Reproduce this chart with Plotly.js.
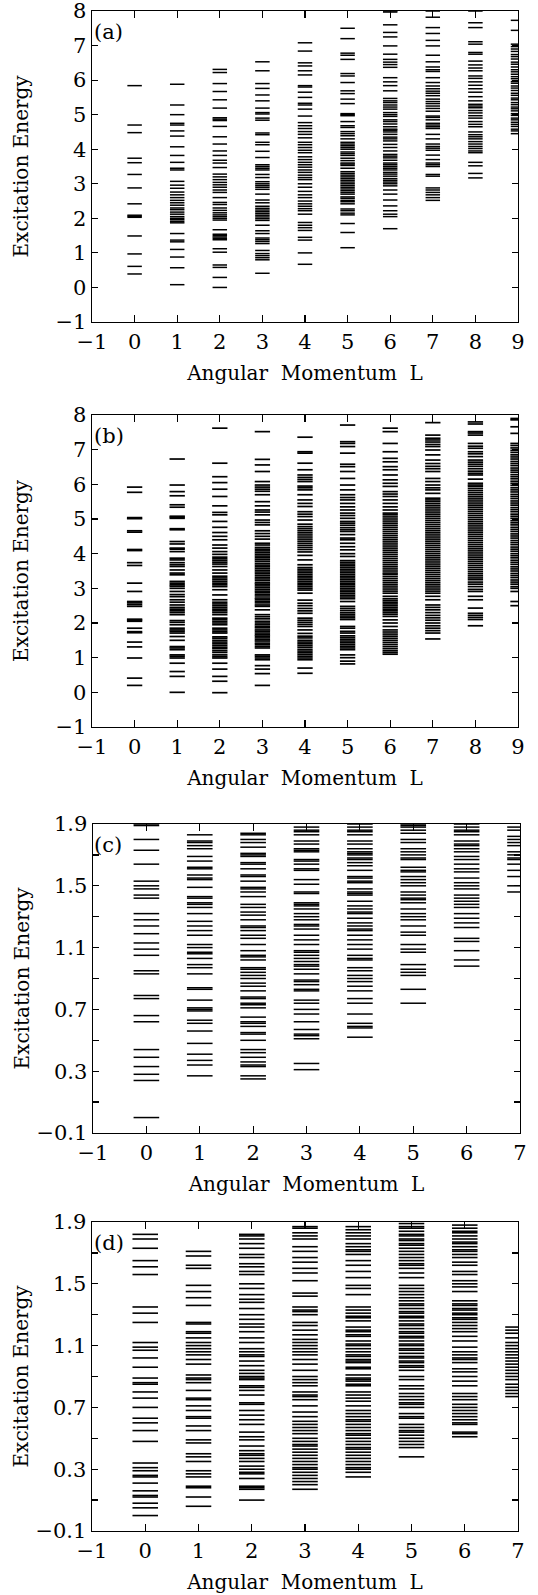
<!DOCTYPE html>
<html>
<head>
<meta charset="utf-8">
<script src="https://cdn.plot.ly/plotly-3.0.1.min.js"></script>
<style>
  html, body { margin: 0; padding: 0; background: #ffffff; }
  #chart { width: 538px; height: 1595px; }
</style>
</head>
<body>
<div id="chart"></div>
<script>
// Excitation spectra: one list of level energies per angular momentum L.

// Panel (a), L = 0 ... 9
const spectrumA = [
  [0.39, 0.61, 0.97, 1.49, 2.03, 2.06, 2.09, 2.42, 2.88, 3.27, 3.61, 3.74, 4.48, 4.70, 5.84],
  [0.08, 0.57, 0.88, 1.10, 1.32, 1.37, 1.56, 1.87, 1.91, 1.96, 2.00, 2.05, 2.12, 2.18, 2.25, 2.30, 2.38, 2.45, 2.52, 2.60, 2.68, 2.76, 2.87, 2.96, 3.07, 3.40, 3.45, 3.62, 3.82, 4.07, 4.38, 4.53, 4.70, 4.75, 5.00, 5.28, 5.88],
  [0.00, 0.29, 0.58, 0.65, 1.02, 1.12, 1.38, 1.42, 1.46, 1.50, 1.54, 1.67, 1.95, 2.00, 2.05, 2.10, 2.16, 2.23, 2.30, 2.40, 2.46, 2.60, 2.75, 2.82, 2.90, 2.97, 3.04, 3.12, 3.20, 3.28, 3.47, 3.60, 3.68, 3.82, 3.95, 4.15, 4.36, 4.66, 4.83, 4.87, 4.91, 5.19, 5.43, 5.67, 5.90, 6.22, 6.31],
  [0.41, 0.80, 0.86, 0.92, 0.98, 1.07, 1.27, 1.33, 1.38, 1.43, 1.56, 1.64, 1.80, 1.94, 1.99, 2.04, 2.09, 2.14, 2.19, 2.24, 2.29, 2.35, 2.45, 2.53, 2.70, 2.84, 2.90, 2.95, 3.00, 3.06, 3.18, 3.27, 3.40, 3.45, 3.50, 3.55, 3.76, 3.94, 4.13, 4.20, 4.42, 4.47, 4.84, 4.90, 5.02, 5.06, 5.19, 5.40, 5.57, 5.76, 5.90, 6.27, 6.53],
  [0.67, 1.00, 1.37, 1.45, 1.65, 1.73, 1.80, 1.88, 2.12, 2.22, 2.28, 2.35, 2.42, 2.50, 2.60, 2.68, 2.78, 2.90, 3.00, 3.12, 3.18, 3.25, 3.33, 3.40, 3.48, 3.55, 3.62, 3.70, 3.78, 3.90, 3.97, 4.05, 4.13, 4.20, 4.33, 4.43, 4.51, 4.60, 4.68, 4.77, 4.96, 5.16, 5.28, 5.33, 5.50, 5.65, 5.80, 5.84, 6.15, 6.27, 6.41, 6.50, 6.84, 7.08],
  [1.15, 1.59, 1.85, 2.10, 2.15, 2.22, 2.27, 2.42, 2.48, 2.52, 2.58, 2.62, 2.70, 2.75, 2.80, 2.85, 2.90, 2.95, 3.00, 3.05, 3.10, 3.15, 3.20, 3.25, 3.30, 3.35, 3.45, 3.53, 3.57, 3.60, 3.67, 3.74, 3.82, 3.87, 3.92, 4.00, 4.05, 4.10, 4.15, 4.20, 4.30, 4.39, 4.45, 4.51, 4.63, 4.68, 4.80, 4.97, 5.00, 5.03, 5.32, 5.45, 5.61, 5.69, 5.93, 6.12, 6.19, 6.60, 6.72, 6.78, 7.20, 7.50],
  [1.70, 2.05, 2.12, 2.22, 2.36, 2.53, 2.70, 2.82, 2.94, 3.00, 3.05, 3.10, 3.15, 3.22, 3.28, 3.33, 3.40, 3.45, 3.50, 3.55, 3.60, 3.68, 3.75, 3.80, 3.85, 3.95, 4.05, 4.14, 4.24, 4.30, 4.35, 4.43, 4.50, 4.55, 4.58, 4.65, 4.73, 4.80, 4.85, 4.95, 5.00, 5.06, 5.16, 5.22, 5.28, 5.35, 5.40, 5.47, 5.69, 5.84, 5.95, 6.07, 6.37, 6.45, 6.52, 6.60, 6.75, 6.99, 7.25, 7.38, 7.60, 7.97, 8.00],
  [2.52, 2.60, 2.68, 2.75, 2.82, 2.88, 3.22, 3.27, 3.50, 3.55, 3.60, 3.70, 3.83, 3.97, 4.03, 4.08, 4.15, 4.30, 4.43, 4.60, 4.65, 4.70, 4.75, 4.85, 4.92, 4.96, 5.10, 5.18, 5.25, 5.32, 5.38, 5.45, 5.55, 5.62, 5.68, 5.75, 5.83, 5.93, 6.07, 6.25, 6.30, 6.38, 6.53, 6.72, 6.99, 7.15, 7.35, 7.52, 7.82, 8.00],
  [3.17, 3.30, 3.52, 3.62, 3.90, 3.95, 4.02, 4.08, 4.15, 4.22, 4.30, 4.36, 4.42, 4.50, 4.65, 4.72, 4.80, 4.90, 4.97, 5.05, 5.12, 5.20, 5.25, 5.30, 5.40, 5.52, 5.65, 5.75, 5.85, 5.95, 6.05, 6.12, 6.27, 6.35, 6.44, 6.55, 6.75, 6.80, 7.04, 7.11, 7.52, 7.66, 8.00],
  [4.45, 4.53, 4.58, 4.66, 4.72, 4.78, 4.85, 4.90, 4.98, 5.03, 5.11, 5.17, 5.22, 5.29, 5.35, 5.43, 5.48, 5.56, 5.62, 5.70, 5.77, 5.83, 5.91, 5.96, 6.04, 6.10, 6.17, 6.24, 6.30, 6.38, 6.46, 6.52, 6.61, 6.68, 6.74, 6.83, 6.90, 6.97, 7.04, 7.44, 7.73]
];

// Panel (b), L = 0 ... 9
const spectrumB = [
  [0.20, 0.41, 0.99, 1.31, 1.45, 1.72, 1.75, 1.85, 2.05, 2.08, 2.11, 2.48, 2.53, 2.58, 2.62, 2.91, 3.15, 3.66, 3.74, 4.09, 4.12, 4.62, 4.66, 5.01, 5.04, 5.77, 5.92],
  [0.00, 0.46, 0.60, 0.84, 0.99, 1.04, 1.08, 1.23, 1.28, 1.32, 1.50, 1.61, 1.71, 1.76, 1.80, 1.85, 1.95, 2.02, 2.07, 2.24, 2.30, 2.35, 2.40, 2.45, 2.52, 2.60, 2.67, 2.76, 2.82, 2.91, 3.00, 3.06, 3.10, 3.15, 3.20, 3.39, 3.44, 3.53, 3.63, 3.68, 3.74, 3.82, 3.87, 4.06, 4.13, 4.16, 4.28, 4.35, 4.69, 4.72, 5.02, 5.05, 5.08, 5.34, 5.41, 5.67, 5.79, 5.98, 6.73],
  [-0.01, 0.32, 0.46, 0.67, 0.84, 0.99, 1.03, 1.08, 1.15, 1.20, 1.26, 1.30, 1.35, 1.40, 1.45, 1.50, 1.56, 1.60, 1.71, 1.75, 1.80, 1.85, 1.95, 2.00, 2.05, 2.10, 2.14, 2.24, 2.30, 2.35, 2.40, 2.45, 2.50, 2.55, 2.60, 2.67, 2.81, 2.96, 3.05, 3.10, 3.15, 3.20, 3.25, 3.30, 3.35, 3.44, 3.53, 3.63, 3.70, 3.75, 3.80, 3.85, 3.90, 3.98, 4.06, 4.16, 4.25, 4.40, 4.50, 4.61, 4.76, 4.93, 5.12, 5.19, 5.38, 5.65, 5.86, 6.05, 6.22, 6.61, 7.62],
  [0.20, 0.54, 0.67, 0.77, 0.94, 0.99, 1.04, 1.08, 1.28, 1.33, 1.38, 1.42, 1.48, 1.52, 1.57, 1.62, 1.66, 1.71, 1.76, 1.80, 1.86, 1.90, 1.95, 2.00, 2.05, 2.12, 2.18, 2.24, 2.38, 2.48, 2.52, 2.58, 2.63, 2.68, 2.72, 2.78, 2.83, 2.88, 2.92, 2.97, 3.02, 3.07, 3.12, 3.16, 3.22, 3.27, 3.32, 3.37, 3.42, 3.47, 3.52, 3.57, 3.62, 3.67, 3.72, 3.78, 3.83, 3.88, 3.93, 3.98, 4.03, 4.08, 4.13, 4.18, 4.25, 4.30, 4.42, 4.50, 4.58, 4.66, 4.83, 4.90, 4.97, 5.12, 5.20, 5.26, 5.38, 5.50, 5.70, 5.80, 5.86, 5.92, 5.98, 6.08, 6.37, 6.56, 6.72, 7.52],
  [0.55, 0.70, 0.94, 0.99, 1.04, 1.09, 1.14, 1.19, 1.24, 1.30, 1.35, 1.40, 1.45, 1.50, 1.57, 1.62, 1.70, 1.80, 1.90, 1.96, 2.02, 2.08, 2.14, 2.28, 2.35, 2.42, 2.50, 2.57, 2.66, 2.86, 2.95, 3.00, 3.05, 3.10, 3.15, 3.20, 3.25, 3.30, 3.35, 3.40, 3.45, 3.50, 3.55, 3.60, 3.68, 3.82, 3.95, 4.05, 4.12, 4.18, 4.24, 4.30, 4.36, 4.42, 4.48, 4.54, 4.60, 4.66, 4.72, 4.78, 4.85, 4.97, 5.07, 5.14, 5.21, 5.36, 5.45, 5.55, 5.70, 5.84, 5.90, 5.95, 6.08, 6.14, 6.20, 6.27, 6.42, 6.61, 6.90, 6.94, 7.36],
  [0.82, 0.90, 1.00, 1.08, 1.23, 1.28, 1.33, 1.38, 1.43, 1.48, 1.53, 1.58, 1.63, 1.71, 1.76, 1.85, 1.90, 2.10, 2.15, 2.20, 2.25, 2.30, 2.36, 2.42, 2.48, 2.62, 2.70, 2.75, 2.80, 2.85, 2.90, 2.95, 3.00, 3.05, 3.10, 3.15, 3.20, 3.25, 3.30, 3.35, 3.40, 3.45, 3.50, 3.55, 3.60, 3.65, 3.70, 3.75, 3.80, 3.92, 4.00, 4.11, 4.20, 4.30, 4.40, 4.45, 4.55, 4.64, 4.69, 4.75, 4.82, 4.88, 4.93, 5.02, 5.10, 5.17, 5.26, 5.35, 5.45, 5.55, 5.62, 5.70, 5.84, 5.98, 6.17, 6.37, 6.51, 6.58, 6.90, 7.09, 7.18, 7.23, 7.71],
  [1.10, 1.15, 1.20, 1.26, 1.32, 1.38, 1.44, 1.50, 1.56, 1.62, 1.68, 1.74, 1.80, 1.90, 2.00, 2.09, 2.19, 2.25, 2.30, 2.35, 2.40, 2.45, 2.50, 2.55, 2.60, 2.65, 2.70, 2.77, 2.86, 2.92, 2.98, 3.04, 3.10, 3.16, 3.22, 3.28, 3.34, 3.40, 3.44, 3.50, 3.56, 3.62, 3.68, 3.74, 3.80, 3.86, 3.92, 3.98, 4.04, 4.10, 4.16, 4.22, 4.28, 4.34, 4.40, 4.46, 4.52, 4.58, 4.64, 4.70, 4.76, 4.82, 4.88, 4.94, 5.00, 5.06, 5.12, 5.17, 5.26, 5.35, 5.45, 5.55, 5.65, 5.72, 5.79, 5.94, 6.03, 6.13, 6.27, 6.42, 6.51, 6.65, 6.75, 6.94, 7.18, 7.52, 7.62],
  [1.54, 1.71, 1.78, 1.85, 1.92, 2.00, 2.08, 2.15, 2.22, 2.30, 2.38, 2.45, 2.52, 2.67, 2.77, 2.86, 2.92, 2.98, 3.04, 3.10, 3.16, 3.22, 3.28, 3.34, 3.40, 3.46, 3.52, 3.58, 3.64, 3.70, 3.76, 3.82, 3.88, 3.94, 4.00, 4.06, 4.12, 4.18, 4.24, 4.30, 4.36, 4.42, 4.48, 4.54, 4.60, 4.66, 4.72, 4.78, 4.84, 4.90, 4.96, 5.02, 5.08, 5.14, 5.20, 5.26, 5.32, 5.38, 5.44, 5.50, 5.55, 5.60, 5.74, 5.84, 5.90, 5.98, 6.08, 6.17, 6.37, 6.45, 6.52, 6.60, 6.70, 6.85, 6.99, 7.09, 7.15, 7.22, 7.28, 7.33, 7.42, 7.78],
  [1.92, 2.10, 2.16, 2.22, 2.28, 2.43, 2.67, 2.77, 2.91, 2.97, 3.05, 3.12, 3.18, 3.25, 3.30, 3.36, 3.42, 3.48, 3.54, 3.60, 3.66, 3.72, 3.78, 3.84, 3.90, 3.96, 4.02, 4.08, 4.14, 4.20, 4.26, 4.32, 4.38, 4.44, 4.50, 4.56, 4.62, 4.68, 4.74, 4.80, 4.86, 4.92, 4.98, 5.04, 5.10, 5.16, 5.22, 5.28, 5.34, 5.40, 5.46, 5.52, 5.58, 5.64, 5.70, 5.76, 5.82, 5.88, 5.94, 5.98, 6.03, 6.15, 6.27, 6.32, 6.38, 6.45, 6.52, 6.58, 6.64, 6.70, 6.80, 6.88, 6.94, 7.04, 7.10, 7.18, 7.42, 7.48, 7.52, 7.74, 7.80],
  [2.50, 2.62, 2.91, 3.00, 3.05, 3.12, 3.18, 3.24, 3.31, 3.37, 3.43, 3.50, 3.56, 3.62, 3.69, 3.75, 3.81, 3.88, 3.94, 4.00, 4.07, 4.13, 4.19, 4.26, 4.32, 4.38, 4.45, 4.51, 4.57, 4.64, 4.70, 4.76, 4.83, 4.89, 4.95, 5.02, 5.08, 5.14, 5.21, 5.27, 5.33, 5.40, 5.46, 5.52, 5.59, 5.65, 5.71, 5.78, 5.84, 5.90, 5.97, 6.03, 6.09, 6.16, 6.22, 6.28, 6.35, 6.41, 6.47, 6.54, 6.60, 6.66, 6.73, 6.79, 6.85, 6.92, 6.98, 7.05, 7.12, 7.18, 7.47, 7.66, 7.86, 7.90]
];

// Panel (c), L = 0 ... 7
const spectrumC = [
  [0.00, 0.24, 0.28, 0.33, 0.39, 0.44, 0.62, 0.66, 0.77, 0.79, 0.93, 0.95, 1.05, 1.09, 1.13, 1.19, 1.24, 1.28, 1.32, 1.42, 1.44, 1.48, 1.50, 1.53, 1.64, 1.73, 1.80, 1.89, 1.90],
  [0.27, 0.34, 0.37, 0.41, 0.48, 0.56, 0.61, 0.63, 0.69, 0.70, 0.71, 0.76, 0.83, 0.84, 0.93, 0.97, 0.99, 1.03, 1.06, 1.07, 1.10, 1.12, 1.18, 1.21, 1.24, 1.27, 1.32, 1.36, 1.38, 1.39, 1.42, 1.43, 1.49, 1.54, 1.55, 1.57, 1.61, 1.62, 1.66, 1.69, 1.74, 1.76, 1.78, 1.79, 1.83],
  [0.25, 0.27, 0.33, 0.34, 0.36, 0.39, 0.42, 0.44, 0.50, 0.54, 0.55, 0.59, 0.61, 0.62, 0.65, 0.71, 0.73, 0.74, 0.77, 0.78, 0.82, 0.85, 0.87, 0.90, 0.92, 0.94, 0.96, 0.97, 1.02, 1.04, 1.05, 1.08, 1.12, 1.16, 1.18, 1.21, 1.23, 1.24, 1.28, 1.31, 1.33, 1.36, 1.38, 1.43, 1.46, 1.48, 1.49, 1.53, 1.56, 1.57, 1.61, 1.64, 1.65, 1.69, 1.70, 1.71, 1.75, 1.78, 1.80, 1.83, 1.84],
  [0.31, 0.35, 0.51, 0.53, 0.54, 0.57, 0.62, 0.67, 0.70, 0.74, 0.76, 0.82, 0.83, 0.86, 0.88, 0.89, 0.93, 0.96, 0.98, 0.99, 1.01, 1.03, 1.05, 1.07, 1.08, 1.12, 1.15, 1.18, 1.22, 1.24, 1.25, 1.28, 1.30, 1.32, 1.35, 1.37, 1.38, 1.39, 1.45, 1.46, 1.51, 1.54, 1.60, 1.61, 1.64, 1.66, 1.67, 1.72, 1.73, 1.74, 1.77, 1.79, 1.83, 1.85, 1.86, 1.88],
  [0.52, 0.58, 0.59, 0.61, 0.67, 0.74, 0.77, 0.82, 0.85, 0.88, 0.90, 0.92, 0.95, 0.97, 1.02, 1.03, 1.05, 1.09, 1.12, 1.15, 1.18, 1.21, 1.22, 1.24, 1.26, 1.29, 1.32, 1.33, 1.35, 1.37, 1.40, 1.44, 1.45, 1.46, 1.48, 1.52, 1.53, 1.55, 1.56, 1.60, 1.63, 1.65, 1.67, 1.68, 1.70, 1.71, 1.72, 1.74, 1.77, 1.79, 1.83, 1.85, 1.86, 1.88, 1.90],
  [0.74, 0.83, 0.92, 0.94, 0.96, 0.99, 1.07, 1.09, 1.12, 1.18, 1.20, 1.24, 1.28, 1.30, 1.32, 1.35, 1.39, 1.41, 1.42, 1.44, 1.46, 1.50, 1.52, 1.54, 1.56, 1.59, 1.60, 1.62, 1.67, 1.68, 1.70, 1.72, 1.74, 1.78, 1.80, 1.84, 1.86, 1.88, 1.89, 1.90],
  [0.98, 1.02, 1.08, 1.14, 1.16, 1.23, 1.26, 1.29, 1.32, 1.36, 1.38, 1.40, 1.42, 1.44, 1.48, 1.50, 1.52, 1.55, 1.59, 1.61, 1.64, 1.67, 1.69, 1.72, 1.74, 1.76, 1.77, 1.79, 1.83, 1.85, 1.86, 1.88, 1.90],
  [1.46, 1.50, 1.56, 1.60, 1.64, 1.67, 1.68, 1.70, 1.72, 1.76, 1.78, 1.80, 1.82, 1.86, 1.88]
];

// Panel (d), L = 0 ... 7
const spectrumD = [
  [0.00, 0.05, 0.08, 0.12, 0.13, 0.16, 0.21, 0.25, 0.26, 0.29, 0.31, 0.34, 0.48, 0.55, 0.60, 0.63, 0.70, 0.76, 0.80, 0.85, 0.86, 0.89, 0.96, 1.02, 1.07, 1.09, 1.12, 1.25, 1.31, 1.35, 1.56, 1.61, 1.65, 1.73, 1.79, 1.82],
  [0.06, 0.12, 0.18, 0.19, 0.25, 0.27, 0.29, 0.35, 0.38, 0.40, 0.47, 0.49, 0.55, 0.58, 0.63, 0.64, 0.68, 0.71, 0.75, 0.76, 0.81, 0.86, 0.88, 0.89, 0.91, 0.98, 1.01, 1.04, 1.06, 1.08, 1.10, 1.12, 1.15, 1.18, 1.19, 1.24, 1.25, 1.36, 1.41, 1.45, 1.49, 1.60, 1.62, 1.68, 1.71],
  [0.10, 0.17, 0.18, 0.19, 0.24, 0.27, 0.28, 0.30, 0.32, 0.35, 0.37, 0.39, 0.40, 0.42, 0.45, 0.49, 0.51, 0.54, 0.59, 0.62, 0.65, 0.68, 0.72, 0.73, 0.78, 0.81, 0.83, 0.84, 0.88, 0.89, 0.90, 0.92, 0.94, 0.97, 1.00, 1.03, 1.04, 1.06, 1.08, 1.12, 1.15, 1.19, 1.22, 1.24, 1.27, 1.30, 1.34, 1.38, 1.40, 1.43, 1.47, 1.50, 1.56, 1.58, 1.61, 1.63, 1.67, 1.69, 1.73, 1.76, 1.79, 1.81, 1.82],
  [0.17, 0.20, 0.22, 0.24, 0.26, 0.28, 0.30, 0.31, 0.33, 0.35, 0.37, 0.39, 0.41, 0.43, 0.45, 0.46, 0.48, 0.50, 0.53, 0.55, 0.57, 0.59, 0.61, 0.64, 0.67, 0.71, 0.75, 0.77, 0.78, 0.80, 0.84, 0.86, 0.88, 0.90, 0.94, 0.98, 1.01, 1.04, 1.06, 1.08, 1.10, 1.12, 1.14, 1.17, 1.20, 1.23, 1.25, 1.30, 1.32, 1.33, 1.35, 1.42, 1.44, 1.52, 1.57, 1.60, 1.64, 1.67, 1.71, 1.74, 1.79, 1.81, 1.83, 1.86, 1.87],
  [0.25, 0.28, 0.30, 0.31, 0.33, 0.35, 0.37, 0.39, 0.41, 0.43, 0.44, 0.46, 0.48, 0.50, 0.52, 0.53, 0.55, 0.57, 0.59, 0.61, 0.62, 0.64, 0.66, 0.68, 0.71, 0.74, 0.76, 0.78, 0.80, 0.84, 0.85, 0.87, 0.88, 0.89, 0.91, 0.95, 0.96, 0.99, 1.00, 1.01, 1.03, 1.04, 1.06, 1.08, 1.10, 1.11, 1.13, 1.16, 1.17, 1.19, 1.20, 1.22, 1.26, 1.28, 1.29, 1.31, 1.33, 1.35, 1.43, 1.47, 1.49, 1.54, 1.58, 1.62, 1.65, 1.69, 1.71, 1.72, 1.74, 1.76, 1.79, 1.81, 1.83, 1.85, 1.87],
  [0.38, 0.44, 0.46, 0.48, 0.50, 0.52, 0.54, 0.55, 0.57, 0.59, 0.63, 0.64, 0.66, 0.70, 0.72, 0.73, 0.75, 0.77, 0.79, 0.82, 0.84, 0.88, 0.90, 0.94, 0.96, 0.97, 0.99, 1.00, 1.02, 1.03, 1.05, 1.07, 1.08, 1.10, 1.11, 1.13, 1.15, 1.16, 1.18, 1.19, 1.21, 1.23, 1.24, 1.26, 1.28, 1.29, 1.31, 1.32, 1.34, 1.36, 1.37, 1.39, 1.41, 1.43, 1.45, 1.47, 1.49, 1.54, 1.57, 1.60, 1.62, 1.63, 1.65, 1.67, 1.69, 1.71, 1.73, 1.75, 1.76, 1.78, 1.79, 1.81, 1.82, 1.84, 1.86, 1.87, 1.89],
  [0.51, 0.53, 0.54, 0.59, 0.60, 0.62, 0.64, 0.66, 0.68, 0.70, 0.72, 0.75, 0.77, 0.79, 0.84, 0.87, 0.90, 0.93, 0.95, 0.99, 1.01, 1.02, 1.04, 1.06, 1.09, 1.13, 1.16, 1.19, 1.21, 1.23, 1.25, 1.27, 1.28, 1.30, 1.31, 1.33, 1.34, 1.36, 1.37, 1.39, 1.45, 1.48, 1.50, 1.52, 1.56, 1.58, 1.62, 1.64, 1.67, 1.69, 1.71, 1.72, 1.74, 1.76, 1.77, 1.79, 1.81, 1.83, 1.84, 1.86, 1.88],
  [0.77, 0.79, 0.81, 0.83, 0.85, 0.88, 0.90, 0.92, 0.94, 0.96, 0.98, 1.00, 1.02, 1.04, 1.06, 1.08, 1.10, 1.12, 1.15, 1.18, 1.20, 1.22]
];

// Tick values
const xTicksAB = [-1, 0, 1, 2, 3, 4, 5, 6, 7, 8, 9];
const yTicksAB = [-1, 0, 1, 2, 3, 4, 5, 6, 7, 8];
const xTicksCD = [-1, 0, 1, 2, 3, 4, 5, 6, 7];
const yTicksCD = [-0.1, 0.1, 0.3, 0.5, 0.7, 0.9, 1.1, 1.3, 1.5, 1.7, 1.9];
const yTextCD = ['\u22120.1', '', '0.3', '', '0.7', '', '1.1', '', '1.5', '', '1.9'];
const panelLabels = ['(a)', '(b)', '(c)', '(d)'];

const FONT = 'DejaVu Serif';
const INK = '#000000';

// Every level becomes a short horizontal segment centred on its L value.
function levelTrace(spectrum, halfWidth, lineWidth, xa, ya) {
  const xs = [], ys = [];
  spectrum.forEach((levels, L) => {
    levels.forEach(E => {
      xs.push(L - halfWidth, L + halfWidth, null);
      ys.push(E, E, null);
    });
  });
  return {
    type: 'scatter', mode: 'lines', x: xs, y: ys,
    xaxis: xa, yaxis: ya, hoverinfo: 'skip', showlegend: false,
    line: { color: INK, width: lineWidth }
  };
}

const traces = [
  levelTrace(spectrumA, 0.17, 1.5, 'x', 'y'),
  levelTrace(spectrumB, 0.18, 1.7, 'x2', 'y2'),
  levelTrace(spectrumC, 0.24, 1.5, 'x3', 'y3'),
  levelTrace(spectrumD, 0.24, 1.6, 'x4', 'y4')
];

function xAxis(domain, anchor, range, ticks) {
  return {
    domain: domain, anchor: anchor, range: range,
    tickmode: 'array', tickvals: ticks,
    ticks: 'inside', ticklen: 7, tickwidth: 1.2, tickcolor: INK,
    mirror: 'ticks', showline: true, linecolor: INK, linewidth: 1.4,
    showgrid: false, zeroline: false, fixedrange: true,
    ticklabeloverflow: 'allow',
    tickfont: { family: FONT, size: 21, color: INK },
    title: { text: 'Angular\u00a0 Momentum\u00a0 L', font: { family: FONT, size: 20, color: INK }, standoff: 13 }
  };
}

function yAxis(domain, anchor, range, ticks, text) {
  const ax = {
    domain: domain, anchor: anchor, range: range,
    tickmode: 'array', tickvals: ticks,
    ticks: 'inside', ticklen: 6, tickwidth: 1.2, tickcolor: INK,
    mirror: 'ticks', showline: true, linecolor: INK, linewidth: 1.4,
    showgrid: false, zeroline: false, fixedrange: true,
    ticklabeloverflow: 'allow',
    tickfont: { family: FONT, size: 21, color: INK }
  };
  if (text) ax.ticktext = text;
  return ax;
}

const H = 1595;
const dom = (top, bottom) => [1 - bottom / H, 1 - top / H];
const domA = dom(11, 322), domB = dom(415, 727), domC = dom(824, 1133), domD = dom(1222, 1531);

const annotations = [];
[domA, domB, domC, domD].forEach((d, i) => {
  // panel tag in the upper-left corner
  annotations.push({
    xref: 'paper', yref: 'paper', x: 0.0, y: d[1] - 7 / H,
    xanchor: 'left', yanchor: 'top', showarrow: false,
    text: panelLabels[i], font: { family: FONT, size: 21, color: INK }
  });
  // vertical axis title
  annotations.push({
    xref: 'paper', yref: 'paper', x: (21 - 92) / 428, y: (d[0] + d[1]) / 2,
    xanchor: 'center', yanchor: 'middle', showarrow: false, textangle: -90,
    text: 'Excitation Energy', font: { family: FONT, size: 20, color: INK }
  });
});

const layout = {
  width: 538, height: 1595,
  margin: { l: 92, r: 18, t: 0, b: 0 },
  paper_bgcolor: '#ffffff', plot_bgcolor: '#ffffff',
  showlegend: false,
  xaxis:  xAxis([0, 426 / 428], 'y',  [-1, 9], xTicksAB),
  yaxis:  yAxis(domA, 'x',  [-1, 8], yTicksAB),
  xaxis2: xAxis([0, 426 / 428], 'y2', [-1, 9], xTicksAB),
  yaxis2: yAxis(domB, 'x2', [-1, 8], yTicksAB),
  xaxis3: xAxis([1 / 428, 1], 'y3', [-1, 7], xTicksCD),
  yaxis3: yAxis(domC, 'x3', [-0.1, 1.9], yTicksCD, yTextCD),
  xaxis4: xAxis([0, 426 / 428], 'y4', [-1, 7], xTicksCD),
  yaxis4: yAxis(domD, 'x4', [-0.1, 1.9], yTicksCD, yTextCD),
  annotations: annotations
};

Plotly.newPlot('chart', traces, layout, { staticPlot: true, displayModeBar: false });
</script>
</body>
</html>
